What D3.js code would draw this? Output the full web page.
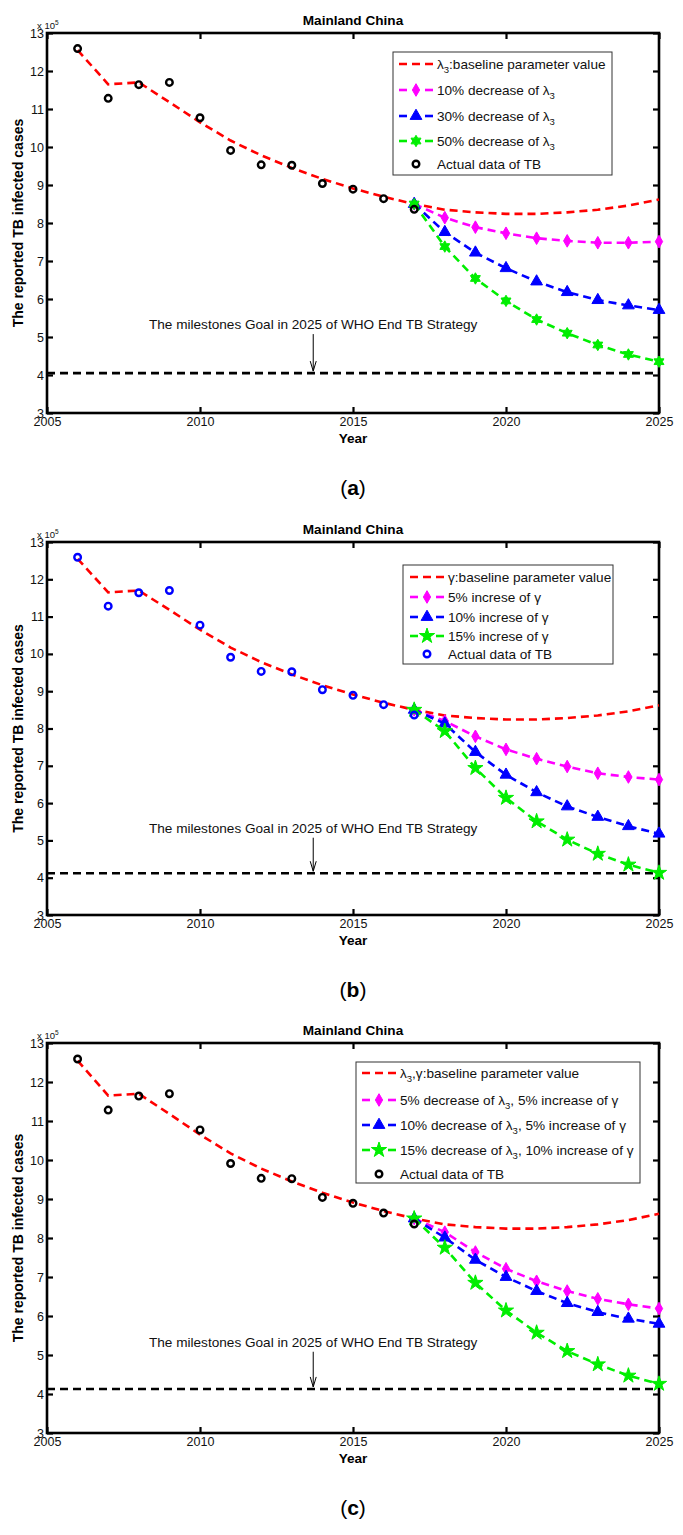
<!DOCTYPE html>
<html><head><meta charset="utf-8">
<script src="https://cdn.jsdelivr.net/npm/d3@7"></script>
<style>
body{margin:0;background:#fff}
svg{display:block}
text{font-family:"Liberation Sans",Arial,Helvetica,sans-serif}
</style>
</head><body>
<svg id="chart" width="683" height="1535"></svg>
<script>
// ---------------- data ----------------
const actualYears = [2006,2007,2008,2009,2010,2011,2012,2013,2014,2015,2016,2017];
const actualCases = [12.59,11.28,11.64,11.70,10.77,9.91,9.53,9.52,9.04,8.89,8.64,8.36];

const baselineYears = [2006,2007,2008,2009,2010,2011,2012,2013,2014,2015,2016,2017,2018,2019,2020,2021,2022,2023,2024,2025];
const baselineCases = [12.55,11.65,11.70,11.18,10.65,10.17,9.78,9.45,9.16,8.91,8.69,8.50,8.35,8.28,8.24,8.24,8.28,8.35,8.46,8.62];

const scenarioYears = [2017,2018,2019,2020,2021,2022,2023,2024,2025];
// panel (a)
const lambdaDec10 = [8.50,8.14,7.89,7.73,7.60,7.53,7.48,7.48,7.51];
const lambdaDec30 = [8.50,7.76,7.22,6.81,6.46,6.18,5.97,5.83,5.71];
const lambdaDec50 = [8.50,7.38,6.54,5.95,5.46,5.10,4.79,4.54,4.35];
// panel (b)
const gammaInc5  = [8.50,8.20,7.79,7.44,7.19,6.98,6.80,6.70,6.63];
const gammaInc10 = [8.50,8.13,7.37,6.76,6.29,5.91,5.63,5.38,5.18];
const gammaInc15 = [8.50,7.93,6.94,6.14,5.51,5.02,4.64,4.35,4.13];
// panel (c)
const combo5_5   = [8.50,8.15,7.64,7.21,6.89,6.64,6.44,6.30,6.19];
const combo10_5  = [8.50,8.01,7.44,7.00,6.64,6.33,6.10,5.93,5.80];
const combo15_10 = [8.50,7.75,6.85,6.14,5.57,5.10,4.76,4.47,4.26];

const goalValues = [4.05, 4.12, 4.13];

const xTicks = [2005,2010,2015,2020,2025];
const yTicks = [3,4,5,6,7,8,9,10,11,12,13];

const panelTitle = "Mainland China";
const yLabel = "The reported TB infected cases";
const xLabel = "Year";
const goalText = "The milestones Goal in 2025 of WHO End TB Strategy";
const panelLetters = ["a","b","c"];

// legend labels: arrays of [text, subscript] parts
const legendA = [[["λ","3"],[":baseline parameter value",""]],[["10% decrease of λ","3"]],[["30% decrease of λ","3"]],[["50% decrease of λ","3"]],[["Actual data of TB",""]]];
const legendB = [[["γ:baseline parameter value",""]],[["5% increse of γ",""]],[["10% increse of γ",""]],[["15% increse of γ",""]],[["Actual data of TB",""]]];
const legendC = [[["λ","3"],[",γ:baseline parameter value",""]],[["5% decrease of λ","3"],[", 5% increase of γ",""]],[["10% decrease of λ","3"],[", 5% increase of γ",""]],[["15% decrease of λ","3"],[", 10% increase of γ",""]],[["Actual data of TB",""]]];

// ---------------- drawing ----------------
const svg = d3.select("#chart");
const RED="#ff0000", MAG="#ff00ff", BLU="#0000ff", GRN="#00ee00";
const FS = 13.6;

const hexagram = {
  draw(ctx, size){
    const r = Math.sqrt(size/2.2), ri = r*0.58;
    for(let i=0;i<12;i++){
      const a = Math.PI/2 + i*Math.PI/6;
      const rr = i%2===0 ? r : ri;
      const px = rr*Math.cos(a), py = -rr*Math.sin(a);
      if(i===0) ctx.moveTo(px,py); else ctx.lineTo(px,py);
    }
    ctx.closePath();
  }
};

const panels = [
  {top:33, bottom:413, series:[lambdaDec10,lambdaDec30,lambdaDec50], star:hexagram, circle:"#000",
   legend:legendA, lg:{x:393,w:219,top:19,h:123,rows:[31,57,83,108,131],text:44}},
  {top:542, bottom:915, series:[gammaInc5,gammaInc10,gammaInc15], star:d3.symbolStar, circle:BLU,
   legend:legendB, lg:{x:403,w:210,top:23,h:99,rows:[35,55,75,94,112],text:45}},
  {top:1043, bottom:1433, series:[combo5_5,combo10_5,combo15_10], star:d3.symbolStar, circle:"#000",
   legend:legendC, lg:{x:356,w:284,top:19,h:121,rows:[30,57,82,107,131],text:44}}
];

const x = d3.scaleLinear().domain([2005,2025]).range([47,659]);
const colors=[MAG,BLU,GRN];

function addLabel(t, parts, fs){
  let shift = 0;
  parts.forEach(([s,sub])=>{
    const ts = t.append("tspan").text(s);
    if(shift){ ts.attr("dy",-shift); shift=0; }
    if(sub){
      t.append("tspan").text(sub).attr("font-size",fs*0.7).attr("dy",4);
      shift = 4;
    }
  });
}

panels.forEach((p,pi)=>{
  const y = d3.scaleLinear().domain([3,13]).range([p.bottom,p.top]);
  const g = svg.append("g");
  const markers=[d3.symbolDiamond,d3.symbolTriangle,p.star];
  const msize=[46,60,72];

  // axes
  const ax = (axis, tx, ty, keepText) => {
    const a = g.append("g").attr("transform",`translate(${tx},${ty})`).call(axis);
    a.select(".domain").remove();
    a.selectAll(".tick line").attr("stroke","#000").attr("stroke-width",2.2);
    if(keepText){
      a.selectAll(".tick text").attr("font-size",12.5).attr("fill","#111")
        .attr("font-family",'"Liberation Sans",Arial,sans-serif');
    } else a.selectAll(".tick text").remove();
    return a;
  };
  ax(d3.axisBottom(x).tickValues(xTicks).tickFormat(d3.format("d")).tickSize(-6).tickPadding(4),0,p.bottom,true);
  ax(d3.axisTop(x).tickValues(xTicks).tickSize(-6),0,p.top,false);
  ax(d3.axisLeft(y).tickValues(yTicks).tickFormat(d3.format("d")).tickSize(-6).tickPadding(3),47,0,true);
  ax(d3.axisRight(y).tickValues(yTicks).tickSize(-6),659,0,false);

  // frame
  g.append("rect").attr("x",47).attr("y",p.top).attr("width",612).attr("height",p.bottom-p.top)
    .attr("fill","none").attr("stroke","#000").attr("stroke-width",2.6);

  // exponent label
  const ex = g.append("text").attr("x",37).attr("y",p.top-4).attr("font-size",9.5).attr("fill","#111");
  ex.append("tspan").text("x 10");
  ex.append("tspan").text("5").attr("font-size",6.5).attr("dy",-4);

  // title
  g.append("text").attr("x",353).attr("y",p.top-8).attr("text-anchor","middle")
    .attr("font-size",FS).attr("font-weight","bold").text(panelTitle);
  // x label
  g.append("text").attr("x",353).attr("y",p.bottom+30).attr("text-anchor","middle")
    .attr("font-size",FS).attr("font-weight","bold").text(xLabel);
  // y label
  g.append("text").attr("transform",`translate(23,${(p.top+p.bottom)/2}) rotate(-90)`).attr("text-anchor","middle")
    .attr("font-size",14).attr("font-weight","bold").text(yLabel);
  // tag
  const tag = g.append("text").attr("x",353).attr("y",p.bottom+82).attr("text-anchor","middle")
    .attr("font-family",'"Liberation Serif","Times New Roman",serif').attr("font-size",21);
  tag.append("tspan").text("(");
  tag.append("tspan").attr("font-weight","bold").text(panelLetters[pi]);
  tag.append("tspan").text(")");

  // goal line
  const gy = y(goalValues[pi]);
  g.append("line").attr("x1",x(2005)).attr("x2",x(2025)).attr("y1",gy).attr("y2",gy)
    .attr("stroke","#000").attr("stroke-width",2.6).attr("stroke-dasharray","8,5");
  // annotation
  const ty = y(5.34);
  g.append("text").attr("x",x(2013.7)).attr("y",ty+5).attr("text-anchor","middle").attr("font-size",FS)
    .attr("fill","#111").text(goalText);
  const axx = x(2013.7);
  g.append("path").attr("d",`M${axx},${ty+10}L${axx},${gy-2}M${axx-3},${gy-12}L${axx},${gy-2}L${axx+3},${gy-12}`)
    .attr("stroke","#000").attr("stroke-width",1).attr("fill","none");

  const line = d3.line().x(d=>x(d[0])).y(d=>y(d[1]));
  // baseline
  g.append("path").attr("d",line(baselineYears.map((v,i)=>[v,baselineCases[i]])))
    .attr("fill","none").attr("stroke",RED).attr("stroke-width",2.6).attr("stroke-dasharray","8,5");
  // scenarios
  p.series.forEach((s,si)=>{
    const pts = scenarioYears.map((v,i)=>[v,s[i]]);
    g.append("path").attr("d",line(pts)).attr("fill","none").attr("stroke",colors[si])
      .attr("stroke-width",2.6).attr("stroke-dasharray","8,5");
    g.selectAll(null).data(pts).enter().append("path")
      .attr("transform",d=>`translate(${x(d[0])},${y(d[1])})`)
      .attr("d",d3.symbol(markers[si],msize[si]))
      .attr("fill",colors[si]).attr("stroke",colors[si]).attr("stroke-width",1);
  });
  // actual data
  g.selectAll(null).data(actualYears.map((v,i)=>[v,actualCases[i]])).enter().append("circle")
    .attr("cx",d=>x(d[0])).attr("cy",d=>y(d[1])).attr("r",3.3)
    .attr("fill","none").attr("stroke",p.circle).attr("stroke-width",2.4);

  // legend
  const L = p.lg;
  const lg = g.append("g").attr("transform",`translate(${L.x},${p.top+L.top})`);
  lg.append("rect").attr("x",0).attr("y",0).attr("width",L.w).attr("height",L.h)
    .attr("fill","#fff").attr("stroke","#333").attr("stroke-width",1);
  const lcol=[RED,MAG,BLU,GRN,null];
  p.legend.forEach((parts,i)=>{
    const ry = L.rows[i]-L.top;
    const lx1=L.text-38, lx2=L.text-4, mx=(lx1+lx2)/2;
    if(i===0){
      lg.append("line").attr("x1",lx1).attr("x2",lx2).attr("y1",ry).attr("y2",ry)
        .attr("stroke",lcol[i]).attr("stroke-width",2.6).attr("stroke-dasharray","8,5");
    } else if(i<4){
      lg.append("line").attr("x1",lx1).attr("x2",lx1+8).attr("y1",ry).attr("y2",ry).attr("stroke",lcol[i]).attr("stroke-width",2.6);
      lg.append("line").attr("x1",lx2-8).attr("x2",lx2).attr("y1",ry).attr("y2",ry).attr("stroke",lcol[i]).attr("stroke-width",2.6);
      lg.append("path").attr("transform",`translate(${mx},${ry})`)
        .attr("d",d3.symbol(markers[i-1],msize[i-1])).attr("fill",lcol[i]).attr("stroke",lcol[i]);
    } else {
      lg.append("circle").attr("cx",mx).attr("cy",ry).attr("r",3.3).attr("fill","none")
        .attr("stroke",p.circle).attr("stroke-width",2.4);
    }
    const t = lg.append("text").attr("x",L.text).attr("y",ry+5).attr("font-size",FS).attr("fill","#111");
    addLabel(t, parts, FS);
  });
});
</script>
</body></html>
